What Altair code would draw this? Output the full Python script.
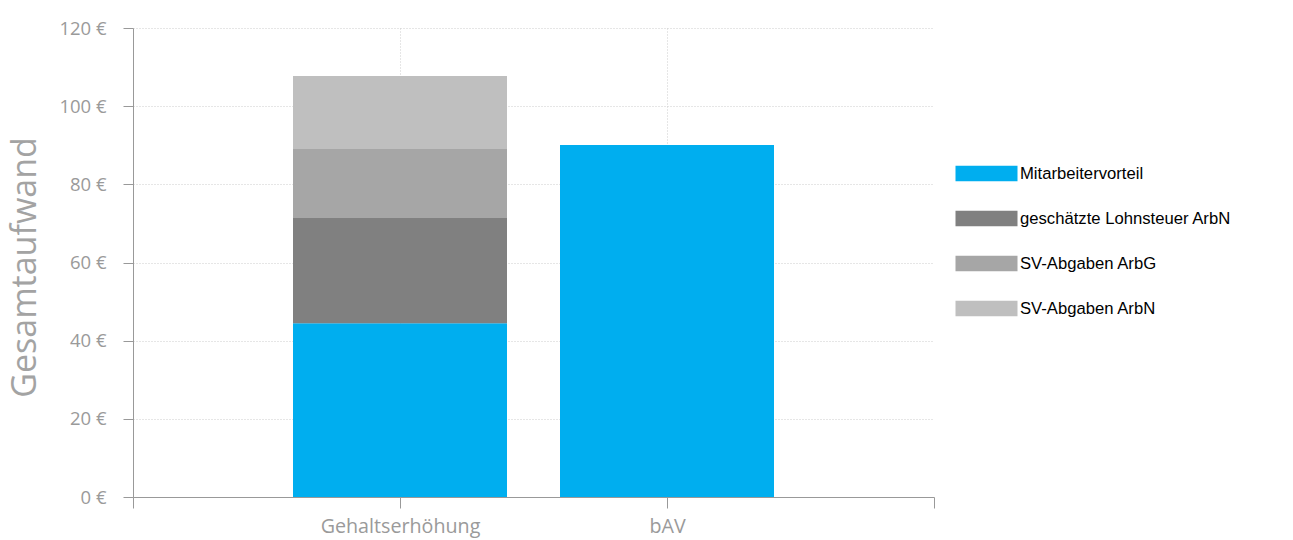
import altair as alt
import pandas as pd

categories = ["Gehaltserhöhung", "Gehaltserhöhung", "Gehaltserhöhung", "Gehaltserhöhung", "bAV"]
components = ["Mitarbeitervorteil", "geschätzte Lohnsteuer ArbN", "SV-Abgaben ArbG", "SV-Abgaben ArbN", "Mitarbeitervorteil"]
values = [44.45, 26.95, 17.65, 18.65, 90.05]
stack_order = [0, 1, 2, 3, 0]

legend_labels = ["Mitarbeitervorteil", "geschätzte Lohnsteuer ArbN", "SV-Abgaben ArbG", "SV-Abgaben ArbN"]
colors = ["#00AEEF", "#808080", "#A6A6A6", "#BFBFBF"]
x_domain = ["_l", "Gehaltserhöhung", "bAV", "_r"]
y_ticks = [0, 20, 40, 60, 80, 100, 120]

df = pd.DataFrame({"Kategorie": categories, "Komponente": components,
                   "Wert": values, "Reihenfolge": stack_order})

font = "Open Sans"
grey = "#9a9a9a"

chart = alt.Chart(df).mark_bar(size=214).encode(
    x=alt.X("Kategorie:N",
            scale=alt.Scale(type="point", domain=x_domain, padding=0),
            axis=alt.Axis(title=None, labelAngle=0,
                          labelExpr="indexof(datum.value, '_') == 0 ? '' : datum.value",
                          labelFont=font, labelFontSize=19.7, labelColor=grey,
                          labelPadding=8, tickSize=11, tickColor="#999999",
                          domainColor="#999999", grid=True,
                          gridDash=[1, 2], gridColor="#cccccc",
                          gridOpacity=alt.ConditionalAxisNumber(
                              condition={"test": "indexof(datum.value, '_') == 0", "value": 0},
                              value=1))),
    y=alt.Y("Wert:Q", stack="zero",
            scale=alt.Scale(domain=[0, 120], nice=False),
            axis=alt.Axis(title="Gesamtaufwand", values=y_ticks,
                          labelExpr="datum.value + ' €'",
                          labelFont=font, labelFontSize=18.5, labelColor=grey,
                          labelPadding=17, tickSize=10, tickColor="#999999",
                          domainColor="#999999", grid=True,
                          gridDash=[1, 2], gridColor="#cccccc",
                          titleFont=font, titleFontSize=34, titleFontWeight="normal",
                          titleColor="#a3a3a3", titleX=-108, titleY=239,
                          titleAlign="center", titleBaseline="middle")),
    color=alt.Color("Komponente:N",
                    scale=alt.Scale(domain=legend_labels, range=colors),
                    legend=alt.Legend(title=None, orient="none", legendX=838, legendY=130,
                                      symbolType="M-2,-0.5L2,-0.5L2,0.5L-2,0.5Z",
                                      symbolSize=961, symbolStrokeWidth=0,
                                      labelFont="Liberation Sans", labelFontSize=16.67,
                                      labelColor="#000000", labelOffset=18, labelLimit=400,
                                      rowPadding=20, symbolOpacity=1)),
    order=alt.Order("Reihenfolge:Q", sort="ascending"),
).properties(
    width=801, height=469,
    autosize=alt.AutoSizeParams(type="none"),
    padding={"left": 133, "top": 28, "right": 359, "bottom": 43},
).configure_view(stroke=None)

chart.save("out.html", embed_options={"renderer": "svg", "actions": False})
